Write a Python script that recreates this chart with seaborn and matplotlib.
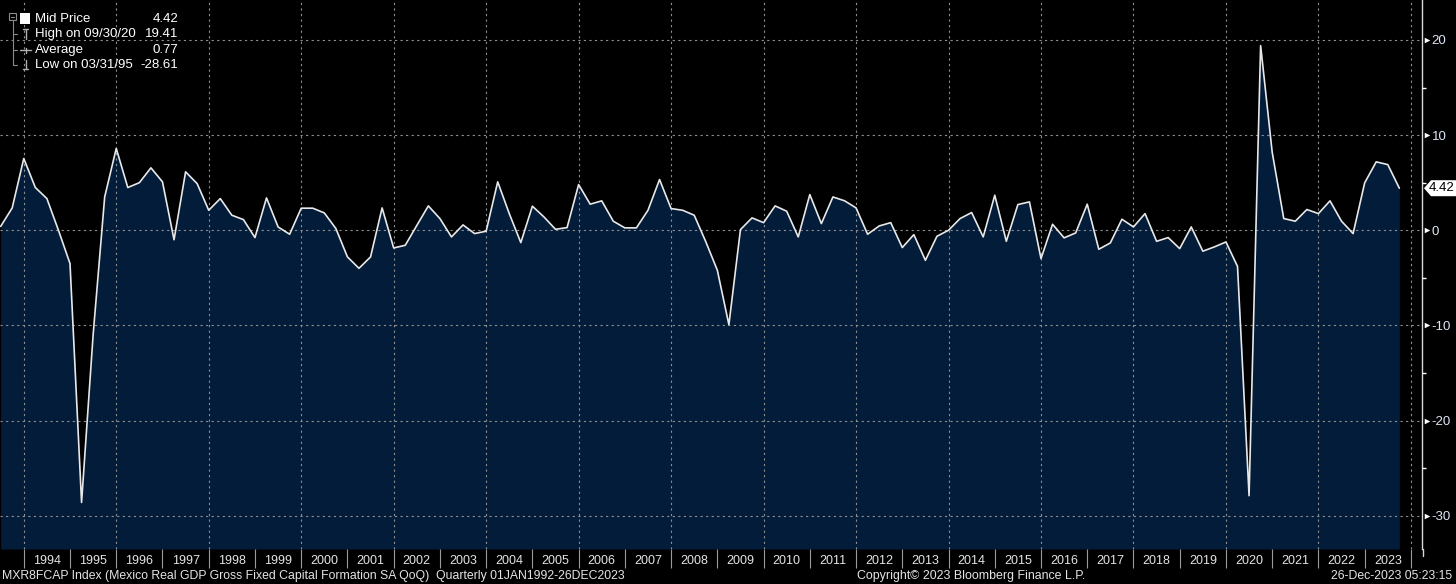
import numpy as np
import pandas as pd
import matplotlib
matplotlib.use("Agg")
import matplotlib.pyplot as plt
import seaborn as sns
from matplotlib.patches import Rectangle, Polygon
from matplotlib.lines import Line2D
from matplotlib.ticker import FixedLocator
from matplotlib.transforms import IdentityTransform

# ---------------- data ----------------
START_QUARTER = "1993Q2"
END_QUARTER = "2023Q3"

gfcf_qoq = [
    0.4, 2.35, 7.54,                      # 1993 Q2-Q4
    4.49, 3.33, 0.0, -3.5,                # 1994
    -28.61, -11.0, 3.5, 8.6,              # 1995
    4.49, 5.0, 6.56, 5.09,                # 1996
    -1.0, 6.14, 4.9, 2.1,                 # 1997
    3.33, 1.58, 1.12, -0.77,              # 1998
    3.4, 0.35, -0.42, 2.32,               # 1999
    2.32, 1.82, 0.18, -2.8,               # 2000
    -4.0, -2.8, 2.35, -1.86,              # 2001
    -1.58, 0.5, 2.56, 1.23,               # 2002
    -0.7, 0.56, -0.35, -0.1,              # 2003
    5.09, 1.75, -1.3, 2.53,               # 2004
    1.4, 0.1, 0.28, 4.8,                  # 2005
    2.74, 3.09, 0.95, 0.25,               # 2006
    0.25, 2.1, 5.33, 2.28,                # 2007
    2.1, 1.58, -1.2, -4.2,                # 2008
    -9.93, 0.07, 1.3, 0.8,                # 2009
    2.56, 2.0, -0.7, 3.75,                # 2010
    0.7, 3.5, 3.1, 2.35,                  # 2011
    -0.42, 0.45, 0.8, -1.82,              # 2012
    -0.46, -3.16, -0.63, 0.0,             # 2013
    1.23, 1.86, -0.7, 3.68,               # 2014
    -1.16, 2.7, 2.98, -2.98,              # 2015
    0.63, -0.8, -0.28, 2.74,              # 2016
    -2.0, -1.33, 1.16, 0.35,              # 2017
    1.75, -1.16, -0.77, -1.93,            # 2018
    0.35, -2.2, -1.75, -1.23,             # 2019
    -3.8, -27.9, 19.41, 8.2,              # 2020
    1.23, 0.95, 2.18, 1.75,               # 2021
    3.09, 0.95, -0.35, 4.98,              # 2022
    7.19, 6.9, 4.42,                      # 2023 Q1-Q3
]

year_labels = list(range(1994, 2024))
y_ticks = [-30, -20, -10, 0, 10, 20]
y_minor = [-25, -15, -5, 5, 15]

legend_names = ["Mid Price", "High on 09/30/20", "Average", "Low on 03/31/95"]
legend_values = ["4.42", "19.41", "0.77", "-28.61"]
last_label = "4.42"

footer_left = ("MXR8FCAP Index (Mexico Real GDP Gross Fixed Capital Formation SA QoQ)"
               "  Quarterly 01JAN1992-26DEC2023")
footer_mid = "Copyright\u00a9 2023 Bloomberg Finance L.P."
footer_right = "26-Dec-2023 05:23:15"

quarters = pd.period_range(START_QUARTER, END_QUARTER, freq="Q")
t = np.asarray(quarters.year + quarters.quarter / 4.0, dtype=float)  # quarter-end
df = pd.DataFrame({"t": t, "v": gfcf_qoq})

# ---------------- style ----------------
W, H = 1456, 584
sns.set_theme(style="dark")
plt.rcParams["font.family"] = ["Liberation Sans", "DejaVu Sans"]

FILL = "#021c3a"
LINE = "#e8e8e8"
GRID = "#8f8f8f"
TXT = "#e4e4e4"
TICKTXT = "#dfe8f7"

fig = plt.figure(figsize=(W / 100, H / 100), dpi=100, facecolor="black")
ax = fig.add_axes([0, 35 / H, 1422 / W, 549 / H])
ax.set_facecolor("black")

XMIN, XMAX = 1993.486, 2024.24
YMIN, YMAX = -33.5, 24.2
ax.set_xlim(XMIN, XMAX)
ax.set_ylim(YMIN, YMAX)

ax.fill_between(df["t"], df["v"], YMIN, color=FILL, lw=0, zorder=1)
sns.lineplot(data=df, x="t", y="v", ax=ax, color=LINE, lw=1.2,
             estimator=None, zorder=4)
ax.set_xlabel("")
ax.set_ylabel("")

# grid
ax.set_yticks(y_ticks)
ax.yaxis.set_minor_locator(FixedLocator(y_minor))
ax.yaxis.grid(True, which="major", color=GRID, ls=(0, (2, 3)), lw=0.8, zorder=3)
ax.xaxis.grid(False)
ax.set_axisbelow(False)
for yr in range(1994, 2025, 2):
    ax.axvline(yr, color=GRID, ls=(0, (2, 3)), lw=0.8, zorder=3)

# y axis on right
ax.yaxis.tick_right()
ax.tick_params(axis="y", which="major", right=True, length=0, pad=7,
               labelcolor=TICKTXT, labelsize=9.5)
ax.tick_params(axis="y", which="minor", right=True, length=3, width=1,
               color="white", direction="out")
ax.set_yticklabels([str(v) for v in y_ticks])
ax.scatter([1.0 + 4.5 / 1422] * len(y_ticks), y_ticks,
           transform=ax.get_yaxis_transform(), marker=">", s=16,
           color="white", clip_on=False, zorder=6, linewidths=0)

# x axis year labels
ax.set_xticks([y + 0.5 for y in year_labels])
ax.set_xticklabels([str(y) for y in year_labels])
ax.xaxis.set_minor_locator(FixedLocator(list(range(1994, 2025))))
ax.tick_params(axis="x", which="major", bottom=True, length=0, pad=4,
               labelcolor=TXT, labelsize=9)
ax.tick_params(axis="x", which="minor", bottom=True, length=14, width=0.8,
               color="#9a9a9a", direction="out")

for s in ["top", "left", "bottom"]:
    ax.spines[s].set_visible(False)
ax.spines["right"].set_color("#d8d8d8")
ax.spines["right"].set_linewidth(1.0)


# ---------------- helpers in pixel space ----------------
def P(x, y):
    """top-left pixel -> figure fraction"""
    return x / W, 1 - y / H


def fline(xs, ys, color="#9a9a9a", lw=1.0):
    fx = [x / W for x in xs]
    fy = [1 - y / H for y in ys]
    fig.add_artist(Line2D(fx, fy, color=color, lw=lw, transform=fig.transFigure))


# right axis line continuing below the plot
fline([1422.5, 1422.5], [549, 556], "#d8d8d8", 1.0)

# legend box
bx0, by0 = P(3, 78)
fig.add_artist(Rectangle((bx0, by0), 183 / W, 75 / H, transform=fig.transFigure,
                         facecolor="#151515", edgecolor="none", zorder=0))
rows_y = [19, 34, 50, 65]
# tree
fig.add_artist(Rectangle(P(9, 20), 7 / W, 7 / H, transform=fig.transFigure,
                         facecolor="none", edgecolor="#8a8a8a", lw=0.8))
fline([10.5, 14.5], [16.5, 16.5], "#8a8a8a", 0.8)
fline([12.5, 12.5], [21, 65], "#8a8a8a", 0.8)
for ry in rows_y[1:]:
    fline([12.5, 17], [ry, ry], "#8a8a8a", 0.8)
# markers
fig.add_artist(Rectangle(P(20, 24), 10 / W, 11 / H, transform=fig.transFigure,
                         facecolor="white", edgecolor="none"))
mk = "#b0b0b0"
fline([23, 28], [29, 29], mk, 1.0)
fline([25.5, 25.5], [29, 39], mk, 1.0)
fline([20, 31], [50, 50], mk, 1.0)
fline([25.5, 25.5], [47.5, 52.5], mk, 1.0)
fline([25.5, 25.5], [60, 69], mk, 1.0)
fline([23, 28], [69, 69], mk, 1.0)
for name, val, ry in zip(legend_names, legend_values, rows_y):
    fig.text(*P(35, ry), name, color="white", fontsize=9.5, ha="left", va="center")
    fig.text(*P(178, ry), val, color="white", fontsize=9.5, ha="right", va="center")

# last value tag
yd = ax.transData.transform((XMAX, gfcf_qoq[-1]))[1]
tag = Polygon([(1424, yd), (1431, yd + 8), (1456, yd + 8), (1456, yd - 8),
               (1431, yd - 8)], closed=True, transform=IdentityTransform(),
              facecolor="white", edgecolor="none", zorder=7)
fig.add_artist(tag)
fig.text(1441.5, yd, last_label, transform=IdentityTransform(), color="black",
         fontsize=9.5, ha="center", va="center", zorder=8)

# footer
fig.text(*P(2, 576), footer_left, color=TXT, fontsize=8.8, ha="left", va="center")
fig.text(*P(971, 576), footer_mid, color=TXT, fontsize=8.9, ha="center", va="center")
fig.text(*P(1452, 576), footer_right, color=TXT, fontsize=8.8, ha="right", va="center")

fig.savefig("out.png", dpi=100, facecolor="black")
